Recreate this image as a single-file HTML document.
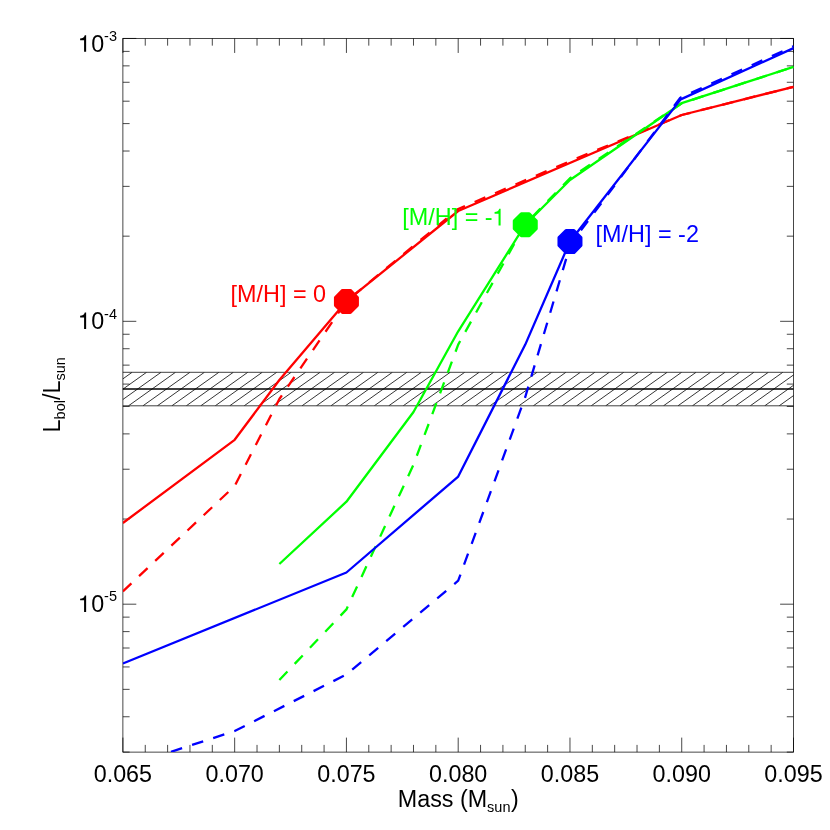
<!DOCTYPE html>
<html><head><meta charset="utf-8"><title>Lbol vs Mass</title>
<style>html,body{margin:0;padding:0;background:#fff;}svg{display:block;will-change:transform;}text{font-family:"Liberation Sans",sans-serif;fill:#000;}</style>
</head><body>
<svg width="830" height="830" viewBox="0 0 830 830">
<rect x="0" y="0" width="830" height="830" fill="#fff"/>
<defs><clipPath id="plot"><rect x="122.90" y="38.45" width="671.10" height="713.65"/></clipPath>
<clipPath id="band"><rect x="122.90" y="372.30" width="670.60" height="33.50"/></clipPath></defs>
<g stroke="#000" stroke-width="0.72" fill="none">
<rect x="122.90" y="38.45" width="670.60" height="713.65"/>
<path d="M122.90 752.10v-14.5M122.90 38.45v14.5M145.25 752.10v-7.2M145.25 38.45v7.2M167.61 752.10v-7.2M167.61 38.45v7.2M189.96 752.10v-7.2M189.96 38.45v7.2M212.31 752.10v-7.2M212.31 38.45v7.2M234.67 752.10v-14.5M234.67 38.45v14.5M257.02 752.10v-7.2M257.02 38.45v7.2M279.37 752.10v-7.2M279.37 38.45v7.2M301.73 752.10v-7.2M301.73 38.45v7.2M324.08 752.10v-7.2M324.08 38.45v7.2M346.43 752.10v-14.5M346.43 38.45v14.5M368.79 752.10v-7.2M368.79 38.45v7.2M391.14 752.10v-7.2M391.14 38.45v7.2M413.49 752.10v-7.2M413.49 38.45v7.2M435.85 752.10v-7.2M435.85 38.45v7.2M458.20 752.10v-14.5M458.20 38.45v14.5M480.55 752.10v-7.2M480.55 38.45v7.2M502.91 752.10v-7.2M502.91 38.45v7.2M525.26 752.10v-7.2M525.26 38.45v7.2M547.61 752.10v-7.2M547.61 38.45v7.2M569.97 752.10v-14.5M569.97 38.45v14.5M592.32 752.10v-7.2M592.32 38.45v7.2M614.67 752.10v-7.2M614.67 38.45v7.2M637.03 752.10v-7.2M637.03 38.45v7.2M659.38 752.10v-7.2M659.38 38.45v7.2M681.73 752.10v-14.5M681.73 38.45v14.5M704.09 752.10v-7.2M704.09 38.45v7.2M726.44 752.10v-7.2M726.44 38.45v7.2M748.79 752.10v-7.2M748.79 38.45v7.2M771.15 752.10v-7.2M771.15 38.45v7.2M793.50 752.10v-14.5M793.50 38.45v14.5M122.90 752.10h6.7M793.50 752.10h-6.7M122.90 716.76h6.7M793.50 716.76h-6.7M122.90 689.35h6.7M793.50 689.35h-6.7M122.90 666.95h6.7M793.50 666.95h-6.7M122.90 648.01h6.7M793.50 648.01h-6.7M122.90 631.61h6.7M793.50 631.61h-6.7M122.90 617.14h6.7M793.50 617.14h-6.7M122.90 604.19h13.4M793.50 604.19h-13.4M122.90 519.04h6.7M793.50 519.04h-6.7M122.90 469.23h6.7M793.50 469.23h-6.7M122.90 433.89h6.7M793.50 433.89h-6.7M122.90 406.47h6.7M793.50 406.47h-6.7M122.90 384.08h6.7M793.50 384.08h-6.7M122.90 365.14h6.7M793.50 365.14h-6.7M122.90 348.73h6.7M793.50 348.73h-6.7M122.90 334.26h6.7M793.50 334.26h-6.7M122.90 321.32h13.4M793.50 321.32h-13.4M122.90 236.17h6.7M793.50 236.17h-6.7M122.90 186.36h6.7M793.50 186.36h-6.7M122.90 151.02h6.7M793.50 151.02h-6.7M122.90 123.60h6.7M793.50 123.60h-6.7M122.90 101.20h6.7M793.50 101.20h-6.7M122.90 82.27h6.7M793.50 82.27h-6.7M122.90 65.86h6.7M793.50 65.86h-6.7M122.90 51.39h6.7M793.50 51.39h-6.7M122.90 38.45h13.4M793.50 38.45h-13.4"/>
</g>
<g stroke="#000" fill="none">
<path clip-path="url(#band)" stroke-width="0.8" d="M56.20 405.80L103.18 372.30M70.66 405.80L117.64 372.30M85.12 405.80L132.10 372.30M99.58 405.80L146.56 372.30M114.04 405.80L161.02 372.30M128.50 405.80L175.48 372.30M142.96 405.80L189.94 372.30M157.42 405.80L204.40 372.30M171.88 405.80L218.86 372.30M186.34 405.80L233.32 372.30M200.80 405.80L247.78 372.30M215.26 405.80L262.24 372.30M229.72 405.80L276.70 372.30M244.18 405.80L291.16 372.30M258.64 405.80L305.62 372.30M273.10 405.80L320.08 372.30M287.56 405.80L334.54 372.30M302.02 405.80L349.00 372.30M316.48 405.80L363.46 372.30M330.94 405.80L377.92 372.30M345.40 405.80L392.38 372.30M359.86 405.80L406.84 372.30M374.32 405.80L421.30 372.30M388.78 405.80L435.76 372.30M403.24 405.80L450.22 372.30M417.70 405.80L464.68 372.30M432.16 405.80L479.14 372.30M446.62 405.80L493.60 372.30M461.08 405.80L508.06 372.30M475.54 405.80L522.52 372.30M490.00 405.80L536.98 372.30M504.46 405.80L551.44 372.30M518.92 405.80L565.90 372.30M533.38 405.80L580.36 372.30M547.84 405.80L594.82 372.30M562.30 405.80L609.28 372.30M576.76 405.80L623.74 372.30M591.22 405.80L638.20 372.30M605.68 405.80L652.66 372.30M620.14 405.80L667.12 372.30M634.60 405.80L681.58 372.30M649.06 405.80L696.04 372.30M663.52 405.80L710.50 372.30M677.98 405.80L724.96 372.30M692.44 405.80L739.42 372.30M706.90 405.80L753.88 372.30M721.36 405.80L768.34 372.30M735.82 405.80L782.80 372.30M750.28 405.80L797.26 372.30M764.74 405.80L811.72 372.30M779.20 405.80L826.18 372.30"/>
<path stroke-width="0.75" d="M122.90 372.30H793.50M122.90 405.80H793.50"/>
<path stroke-width="1.5" d="M122.90 388.90H793.50"/>
</g>
<g clip-path="url(#plot)" fill="none" stroke-width="2.3" stroke-linejoin="round">
<polyline stroke="#ff0000" points="122.90,523.00 234.67,439.80 279.37,380.00 346.43,301.20 458.20,211.00 681.73,115.00 793.50,86.80"/>
<polyline stroke="#ff0000" stroke-dasharray="11.7 10.5" points="122.90,591.40 234.67,486.00 279.37,399.00 346.43,301.20 458.20,209.00 569.97,161.20 681.73,115.00 793.50,86.80"/>
<polyline stroke="#00ff00" points="279.37,564.00 346.43,501.70 413.49,412.00 458.20,331.30 525.26,224.70 569.97,180.00 681.73,103.20 793.50,66.90"/>
<polyline stroke="#00ff00" stroke-dasharray="11.7 10.5" points="279.37,680.00 346.43,609.40 413.49,464.70 458.20,344.60 525.26,224.20 569.97,178.20 681.73,103.20 793.50,66.90"/>
<polyline stroke="#0000ff" points="122.90,663.50 346.43,572.50 458.20,476.60 525.26,344.60 569.97,241.50 680.70,99.40 793.50,48.10"/>
<polyline stroke="#0000ff" stroke-dasharray="11.7 10.5" stroke-dashoffset="-6.2" points="122.90,767.60 234.67,731.00 346.43,674.50 458.20,580.70 525.26,397.00 570.47,244.30 680.30,97.70 793.50,46.20"/>
</g>
<polygon points="350.38,290.40 357.43,297.45 357.43,305.35 350.38,312.40 342.48,312.40 335.43,305.35 335.43,297.45 342.48,290.40" fill="#ff0000" stroke="#ff0000" stroke-width="3" stroke-linejoin="round"/>
<polygon points="529.21,213.70 536.26,220.75 536.26,228.65 529.21,235.70 521.31,235.70 514.26,228.65 514.26,220.75 521.31,213.70" fill="#00ff00" stroke="#00ff00" stroke-width="3" stroke-linejoin="round"/>
<polygon points="573.92,230.60 580.97,237.65 580.97,245.55 573.92,252.60 566.02,252.60 558.97,245.55 558.97,237.65 566.02,230.60" fill="#0000ff" stroke="#0000ff" stroke-width="3" stroke-linejoin="round"/>
<text x="230.6" y="301.8" font-size="23.4" style="fill:#ff0000">[M/H] = 0</text>
<text x="402.3" y="225.4" font-size="23.4" style="fill:#00ff00">[M/H] = -</text>
<path fill="#00ff00" transform="translate(492.61 225.40) scale(0.01143 -0.01143)" d="M520 0V1030H172V1165C365 1177 535 1260 581 1450H700V0Z"/>
<text x="595.6" y="241.8" font-size="23.4" style="fill:#0000ff">[M/H] = -2</text>
<text x="122.90" y="781.6" font-size="23.3" text-anchor="middle">0.065</text>
<text x="234.67" y="781.6" font-size="23.3" text-anchor="middle">0.070</text>
<text x="346.43" y="781.6" font-size="23.3" text-anchor="middle">0.075</text>
<text x="458.20" y="781.6" font-size="23.3" text-anchor="middle">0.080</text>
<text x="569.97" y="781.6" font-size="23.3" text-anchor="middle">0.085</text>
<text x="681.73" y="781.6" font-size="23.3" text-anchor="middle">0.090</text>
<text x="793.50" y="781.6" font-size="23.3" text-anchor="middle">0.095</text>
<path fill="#000" transform="translate(78.17 51.85) scale(0.01138 -0.01138)" d="M520 0V1030H172V1165C365 1177 535 1260 581 1450H700V0Z"/>
<text x="91.13" y="51.85" font-size="23.3">0<tspan font-size="14.5" dy="-10.5">-3</tspan></text>
<path fill="#000" transform="translate(78.17 329.12) scale(0.01138 -0.01138)" d="M520 0V1030H172V1165C365 1177 535 1260 581 1450H700V0Z"/>
<text x="91.13" y="329.12" font-size="23.3">0<tspan font-size="14.5" dy="-10.5">-4</tspan></text>
<path fill="#000" transform="translate(78.17 611.99) scale(0.01138 -0.01138)" d="M520 0V1030H172V1165C365 1177 535 1260 581 1450H700V0Z"/>
<text x="91.13" y="611.99" font-size="23.3">0<tspan font-size="14.5" dy="-10.5">-5</tspan></text>
<text x="458.25" y="806.5" font-size="23.3" text-anchor="middle">Mass (M<tspan font-size="14.5" dy="5">sun</tspan><tspan dy="-5" dx="0.5">)</tspan></text>
<text transform="translate(59.8 394.8) rotate(-90)" font-size="23.3" text-anchor="middle">L<tspan font-size="14.5" dy="5.5">bol</tspan><tspan dy="-5.5">/L</tspan><tspan font-size="14.5" dy="5.5">sun</tspan></text>
</svg></body></html>
